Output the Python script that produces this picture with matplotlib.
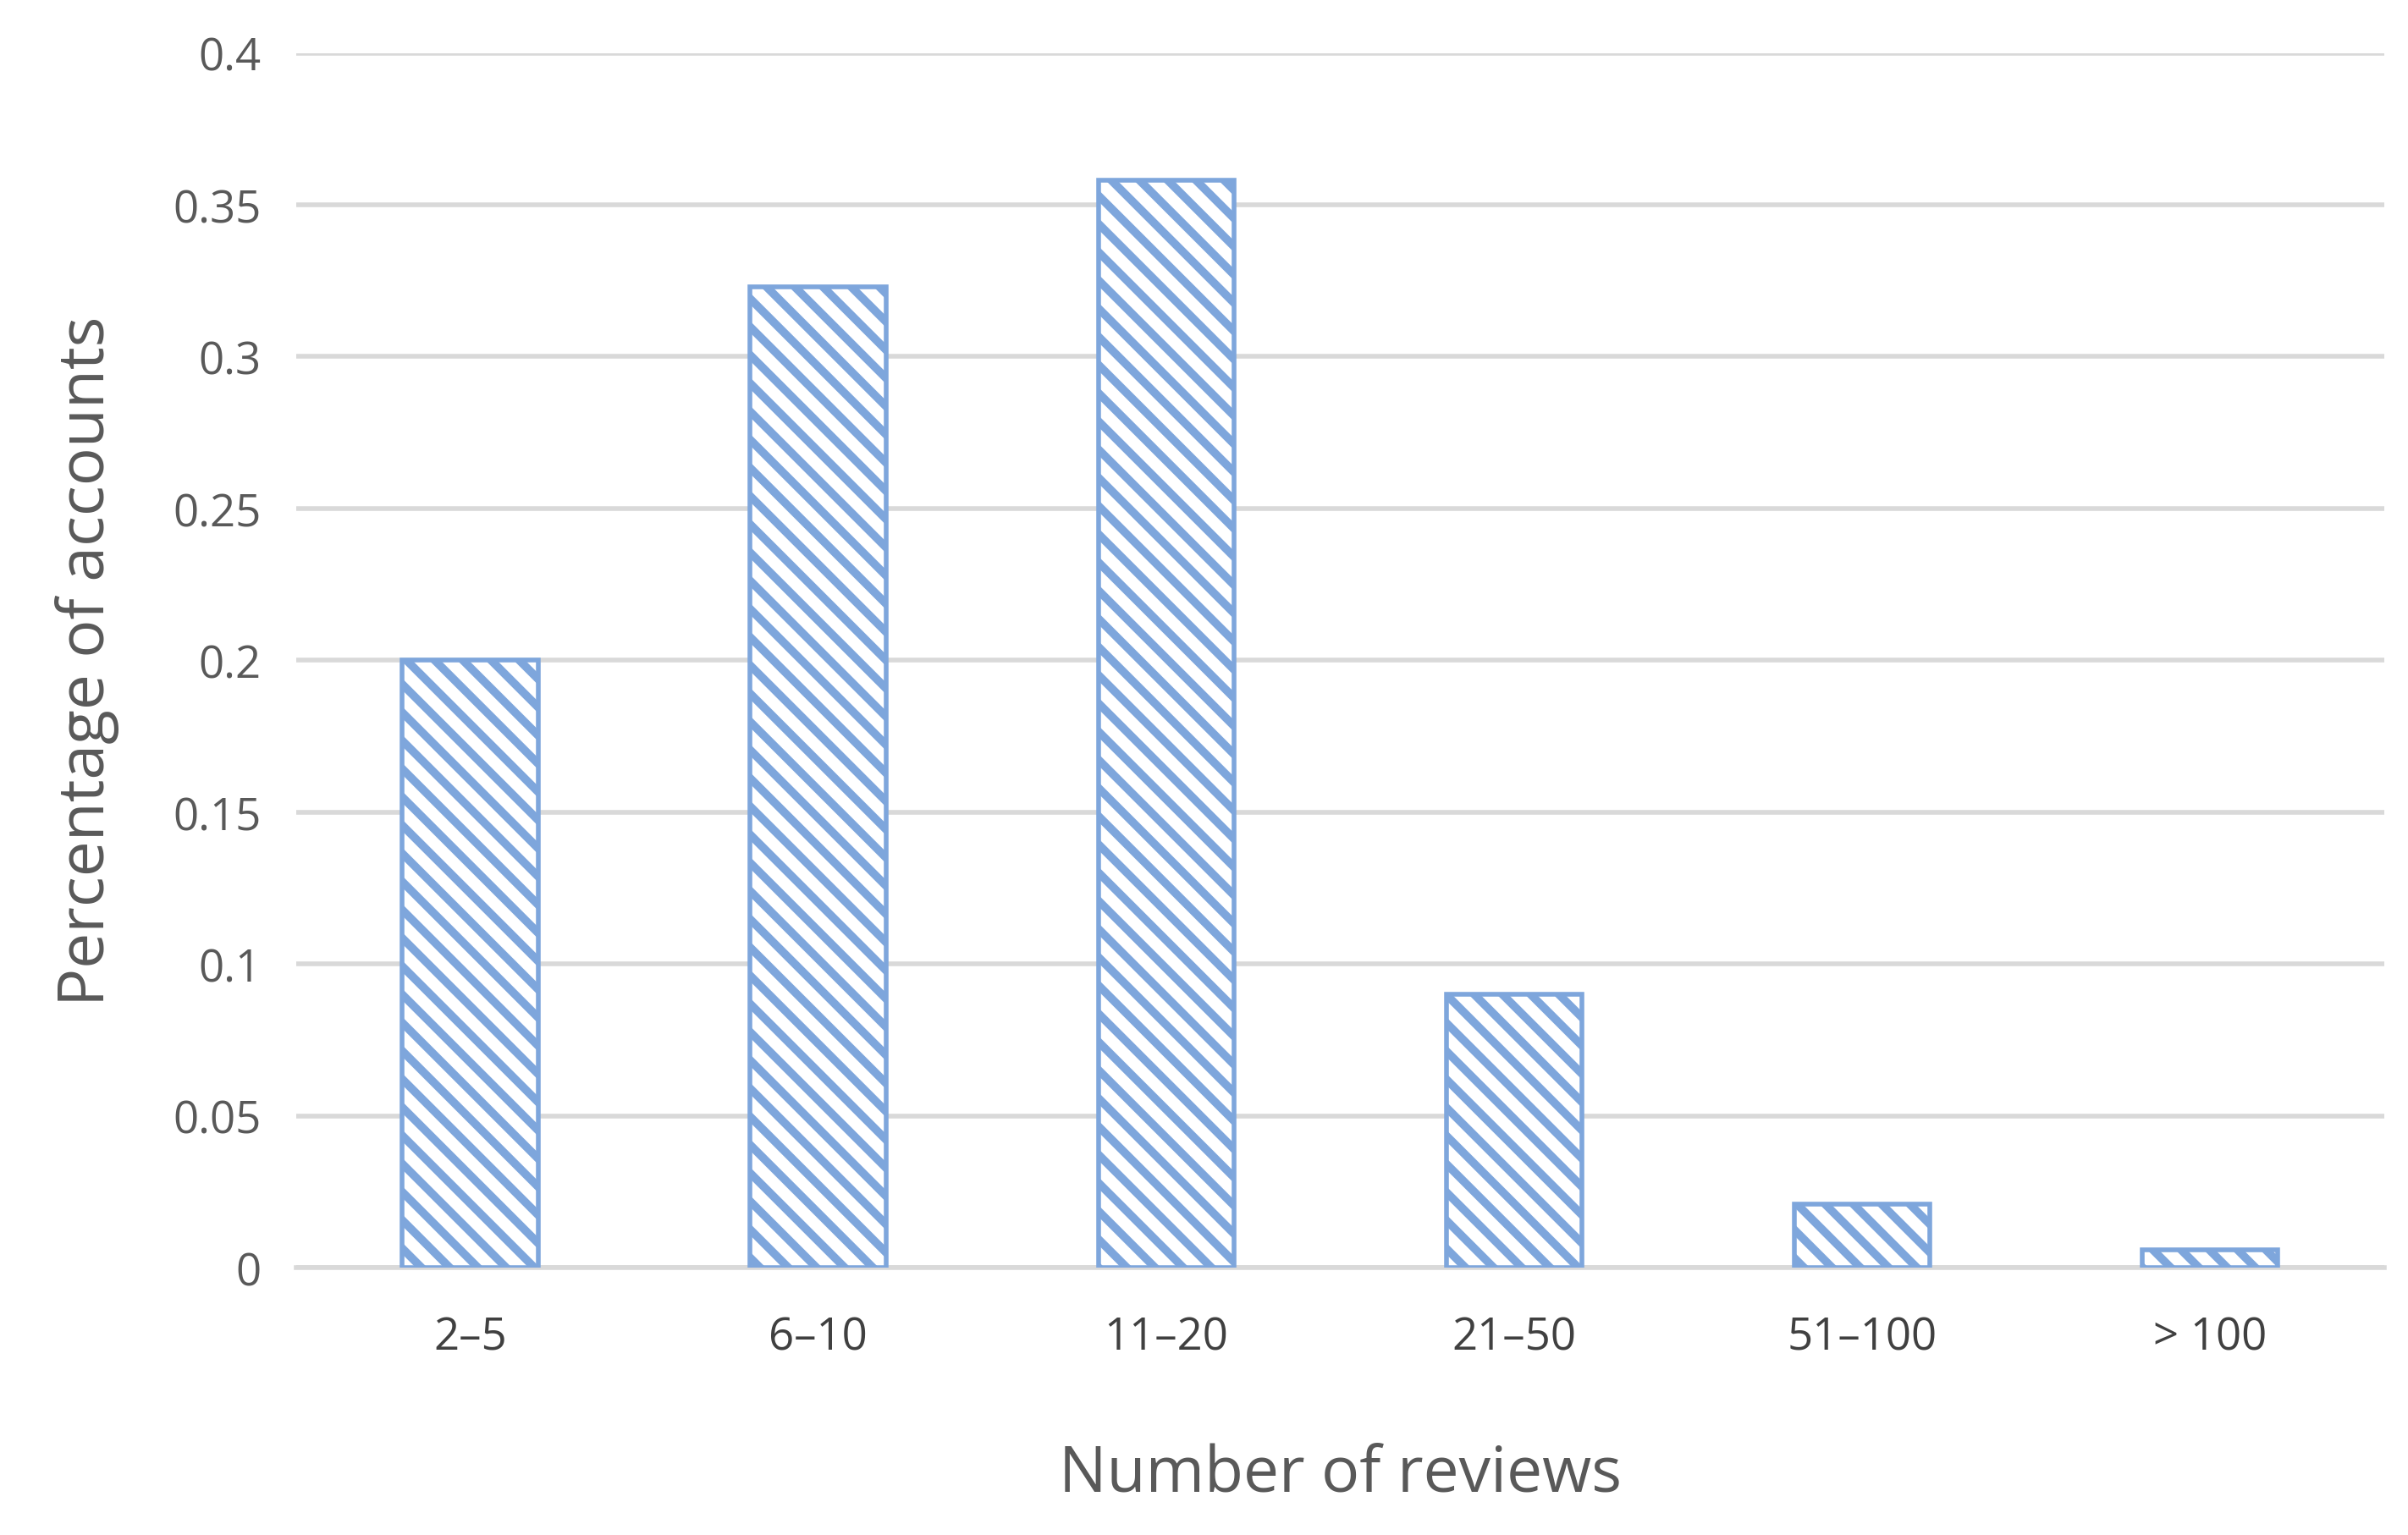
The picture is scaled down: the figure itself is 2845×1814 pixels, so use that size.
import matplotlib.pyplot as plt
import matplotlib as mpl

categories = ["2\u20135", "6\u201310", "11\u201320", "21\u201350", "51\u2013100", "> 100"]
shares = [0.2, 0.323, 0.358, 0.09, 0.021, 0.006]

plt.rcParams['font.family'] = ['Open Sans', 'DejaVu Sans']
mpl.rcParams['hatch.linewidth'] = 7.0
mpl.rcParams['hatch.color'] = '#7EA6DC'

fig = plt.figure(figsize=(28.45, 18.15), dpi=100)
ax = fig.add_axes([0.123, 0.174, 0.867, 0.791])

ax.bar(range(len(categories)), shares, width=0.39, facecolor='white',
       edgecolor='#7EA6DC', linewidth=4, hatch='\\', zorder=3)

ax.set_ylim(0, 0.4)
ax.set_xlim(-0.5, len(categories) - 0.5)
ax.set_yticks([0, 0.05, 0.1, 0.15, 0.2, 0.25, 0.3, 0.35, 0.4])
ax.set_yticklabels(["0", "0.05", "0.1", "0.15", "0.2", "0.25", "0.3", "0.35", "0.4"])
ax.set_xticks(range(len(categories)))
ax.set_xticklabels(categories)
ax.grid(axis='y', color='#D9D9D9', linewidth=4, zorder=0)
for s in ['top', 'right', 'left']:
    ax.spines[s].set_visible(False)
ax.spines['bottom'].set_color('#D9D9D9')
ax.spines['bottom'].set_linewidth(4)
ax.tick_params(axis='both', length=0, labelsize=38, colors='#595959', pad=30)
ax.tick_params(axis='x', colors='#404040', pad=40)

ax.set_xlabel("Number of reviews", fontsize=54, color='#595959', labelpad=70)
ax.set_ylabel("Percentage of accounts", fontsize=54, color='#595959', labelpad=45)

fig.savefig("out.png")
